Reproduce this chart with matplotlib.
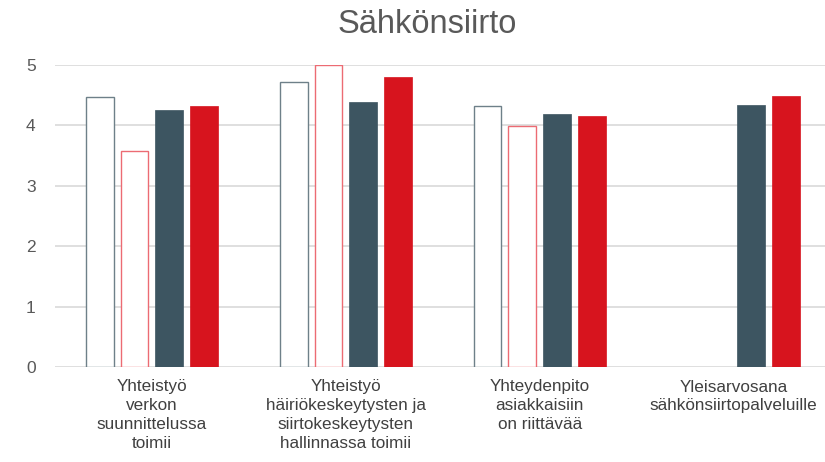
import matplotlib.pyplot as plt
import numpy as np

categories = ['Yhteistyö\nverkon\nsuunnittelussa\ntoimii',
              'Yhteistyö\nhäiriökeskeytysten ja\nsiirtokeskeytysten\nhallinnassa toimii',
              'Yhteydenpito\nasiakkaisiin\non riittävää',
              'Yleisarvosana\nsähkönsiirtopalveluille']
series_a = [4.47, 4.72, 4.32, None]   # outline, slate
series_b = [3.58, 5.00, 3.99, None]   # outline, red
series_c = [4.25, 4.39, 4.19, 4.34]   # filled, slate
series_d = [4.32, 4.80, 4.16, 4.49]   # filled, red

slate = '#3D5561'
red = '#D7141E'

plt.rcParams['font.family'] = ['Liberation Sans', 'DejaVu Sans']

fig = plt.figure(figsize=(8.25, 4.62), dpi=100)
ax = fig.add_axes([55 / 825, 1 - 367 / 462, 1 - 55 / 825, (367 - 65) / 462])

x = np.arange(len(categories))
w = 0.144
step = 0.18

styles = [
    (series_a, dict(facecolor='white', edgecolor='#6E8089', linewidth=1.0)),
    (series_b, dict(facecolor='white', edgecolor='#EC6B73', linewidth=1.0)),
    (series_c, dict(facecolor=slate, edgecolor=slate, linewidth=0.5)),
    (series_d, dict(facecolor=red, edgecolor=red, linewidth=0.5)),
]
for i, (vals, st) in enumerate(styles):
    xs = [xi + (i - 1.5) * step for xi, v in zip(x, vals) if v is not None]
    ys = [v for v in vals if v is not None]
    ax.bar(xs, ys, width=w, zorder=3, **st)

ax.set_ylim(0, 5)
ax.set_xlim(-0.5, 3.47)
ax.set_yticks([0, 1, 2, 3, 4, 5])
ax.yaxis.grid(True, color='#D9D9D9', linewidth=1.2, zorder=0)
for s in ax.spines.values():
    s.set_visible(False)
ax.tick_params(axis='both', length=0, colors='#595959')
ax.tick_params(axis='y', labelsize=12.5, pad=14)
ax.set_xticks(x)
ax.set_xticklabels(categories, fontsize=12.3, color='#404040', linespacing=1.32)
ax.tick_params(axis='x', pad=9)

fig.text(0.518, 0.948, 'Sähkönsiirto', ha='center', va='center', fontsize=23.5, color='#595959')

fig.savefig('out.png', dpi=100)
